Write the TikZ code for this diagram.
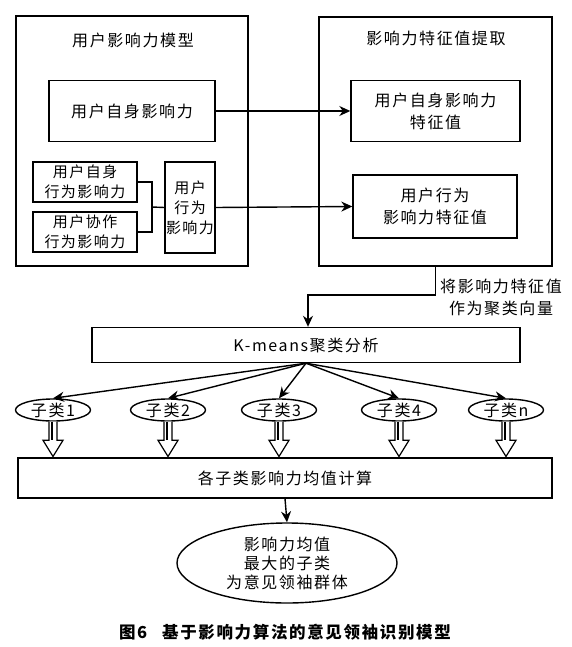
\documentclass[tikz,border=0pt]{standalone}
\usepackage{fontspec}
\setmainfont{Noto Sans CJK SC}[LetterSpace=10]
\usetikzlibrary{shapes.geometric,arrows.meta,calc}

\begin{document}
\begin{tikzpicture}[x=1pt,y=-1pt]
    % Define styles for nodes and edges
    \tikzstyle{box}=[rectangle,draw,line width=1.4pt,align=center,inner sep=0pt,font=\fontsize{16}{22}\selectfont]
    \tikzstyle{smallbox}=[box,font=\fontsize{15}{20}\selectfont]
    \tikzstyle{heading}=[align=center,inner sep=0pt,font=\fontsize{16}{22}\selectfont]
    \tikzstyle{link}=[line width=1.4pt]
    \tikzstyle{flow}=[line width=1.4pt,-{Stealth[length=11pt,width=10pt]}]
    \tikzstyle{cluster}=[ellipse,draw,line width=1.4pt,minimum width=75pt,minimum height=22pt,inner sep=0pt]
    \tikzstyle{hollow}=[draw,line width=1.2pt,fill=white,line join=miter]
    \useasboundingbox (0,0) rectangle (572,647);

    % Left part: user influence model
    \node[box,minimum width=232pt,minimum height=250pt] (model) at (132,141) {};
    \node[heading] (modeltitle) at (133,40) {用户影响力模型};
    \node[box,minimum width=166pt,minimum height=61pt] (self) at (132,111) {用户自身影响力};
    \node[smallbox,minimum width=104pt,minimum height=40pt] (selfbeh) at (85,182) {用户自身\\行为影响力};
    \node[smallbox,minimum width=104pt,minimum height=40pt] (collab) at (85,232) {用户协作\\行为影响力};
    \node[smallbox,minimum width=50pt,minimum height=91pt] (beh) at (190,207.5) {用户\\行为\\影响力};
    % Join the two behaviour boxes
    \coordinate (join) at (152,207);
    \draw[link] (selfbeh.east) -| (join) |- (collab.east);
    \draw[link] (join) -- (beh.west);

    % Right part: feature extraction
    \node[box,minimum width=233pt,minimum height=249pt] (extract) at (435.5,141.5) {};
    \node[heading] (extracttitle) at (436,38) {影响力特征值提取};
    \node[box,minimum width=169pt,minimum height=61pt] (selffeat) at (435.5,111) {用户自身影响力\\特征值};
    \node[box,minimum width=164pt,minimum height=63pt] (behfeat) at (435,206.5) {用户行为\\影响力特征值};
    \draw[flow] (self.east) -- (selffeat.west);
    \draw[flow] (beh.east) -- (behfeat.west);

    % Clustering
    \node[box,minimum width=428pt,minimum height=35pt] (kmeans) at (306,345) {K-means聚类分析};
    \coordinate (turn) at (308,295);
    \draw[flow] (extract.south) |- (turn) -- (turn |- kmeans.north);
    \node[heading] (vecnote) at (501,297) {将影响力特征值\\作为聚类向量};

    \node[box,minimum width=534pt,minimum height=40pt] (avg) at (285,478) {各子类影响力均值计算};

    % Sub-classes with hollow arrows down to the average box
    \foreach \x/\name/\txt in {53/c1/1, 168/c2/2, 279/c3/3, 399/c4/4, 506/c5/n}{
        \node[cluster] (\name) at (\x,410) {};
        \node[heading] (t\txt) at (\x,410) {子类\txt};
        \draw[flow] (kmeans.south) -- (\name.north);
        \draw[hollow] let \p1=(\name.south), \p2=(\name.south |- avg.north) in
            (\x1-4pt,\y1) -- (\x1-4pt,\y2+17pt) -- (\x1-10pt,\y2+17pt) -- (\x1,\y2+0.8pt)
            -- (\x1+10pt,\y2+17pt) -- (\x1+4pt,\y2+17pt) -- (\x1+4pt,\y1);
        \draw[link] let \p1=(\name.south), \p2=(\name.south |- avg.north) in
            (\x1-1pt,\y1) -- (\x1-1pt,\y2+17pt);
    }

    % Result
    \node[ellipse,draw,line width=1.4pt,minimum width=220pt,minimum height=80pt,inner sep=0pt,align=center,font=\fontsize{16}{19}\selectfont] (leader) at (287,563) {影响力均值\\最大的子类\\为意见领袖群体};
    \draw[flow] (avg.south) -- (leader.north);

    \node[font=\bfseries\fontsize{16.5}{20}\selectfont] (caption) at (285,632) {图6\hspace{0.9em}基于影响力算法的意见领袖识别模型};
\end{tikzpicture}
\end{document}
